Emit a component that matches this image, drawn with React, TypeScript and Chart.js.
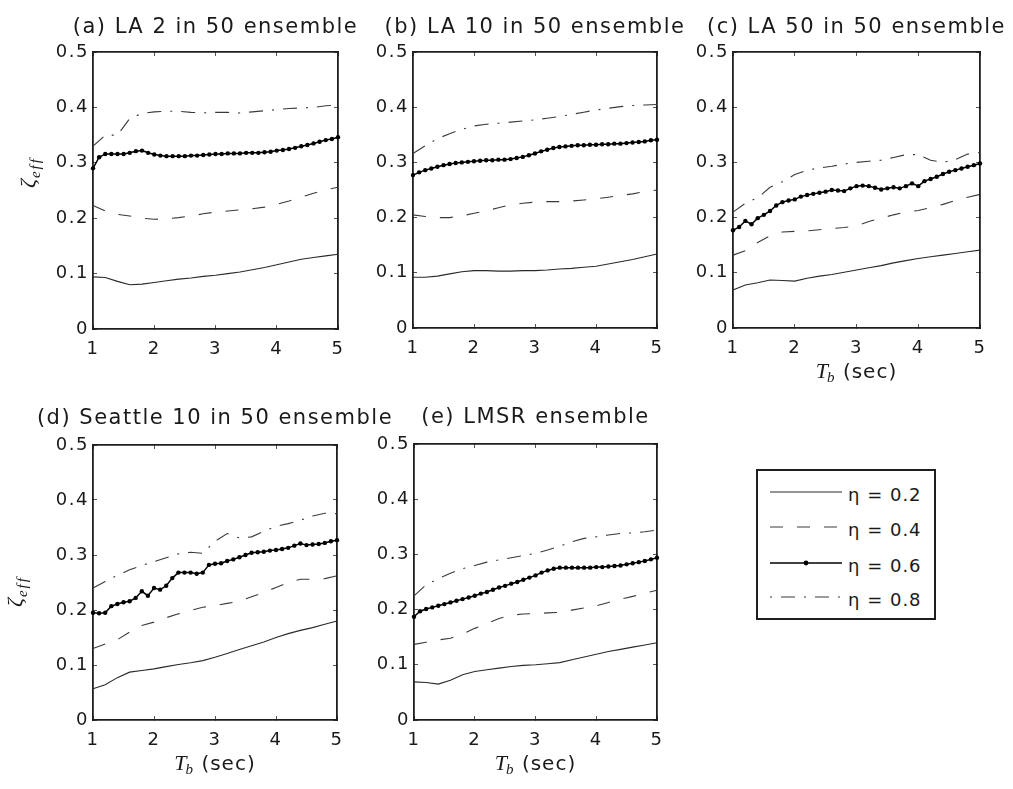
import React, { useEffect, useRef } from 'react';
import { Chart, registerables } from 'chart.js';

Chart.register(...registerables);

// ---------------- data ----------------
const TB_FINE = [
  1.0, 1.1, 1.2, 1.3, 1.4, 1.5, 1.6, 1.7, 1.8, 1.9,
  2.0, 2.1, 2.2, 2.3, 2.4, 2.5, 2.6, 2.7, 2.8, 2.9,
  3.0, 3.1, 3.2, 3.3, 3.4, 3.5, 3.6, 3.7, 3.8, 3.9,
  4.0, 4.1, 4.2, 4.3, 4.4, 4.5, 4.6, 4.7, 4.8, 4.9, 5.0,
];
const TB_COARSE = [
  1.0, 1.2, 1.4, 1.6, 1.8, 2.0, 2.2, 2.4, 2.6, 2.8,
  3.0, 3.2, 3.4, 3.6, 3.8, 4.0, 4.2, 4.4, 4.6, 4.8, 5.0,
];

const X_TICK_LABELS = ['1', '2', '3', '4', '5'];
const Y_TICK_LABELS = ['0', '0.1', '0.2', '0.3', '0.4', '0.5'];
const SERIES_LABELS = ['η = 0.2', 'η = 0.4', 'η = 0.6', 'η = 0.8'];
const PANEL_TITLES = [
  '(a) LA 2 in 50 ensemble',
  '(b) LA 10 in 50 ensemble',
  '(c) LA 50 in 50 ensemble',
  '(d) Seattle 10 in 50 ensemble',
  '(e) LMSR ensemble',
];
const X_TITLE_PARTS = ['T', 'b', ' (sec)'];
const Y_TITLE_PARTS = ['ζ', 'eff'];

// (a) LA 2 in 50
const A_E02 = [0.094, 0.093, 0.086, 0.080, 0.081, 0.084, 0.087, 0.090, 0.092, 0.095, 0.097, 0.100, 0.103, 0.107, 0.111, 0.116, 0.121, 0.126, 0.129, 0.132, 0.135];
const A_E04 = [0.223, 0.213, 0.207, 0.204, 0.200, 0.198, 0.199, 0.201, 0.204, 0.208, 0.211, 0.213, 0.215, 0.217, 0.220, 0.225, 0.231, 0.238, 0.245, 0.251, 0.256];
const A_E06 = [
  0.290, 0.310, 0.316, 0.316, 0.316, 0.316, 0.318, 0.321, 0.322, 0.318,
  0.315, 0.313, 0.312, 0.312, 0.312, 0.312, 0.313, 0.313, 0.314, 0.315,
  0.316, 0.316, 0.317, 0.317, 0.317, 0.318, 0.318, 0.318, 0.319, 0.320,
  0.322, 0.323, 0.325, 0.327, 0.330, 0.332, 0.335, 0.338, 0.341, 0.343, 0.346,
];
const A_E08 = [0.330, 0.350, 0.350, 0.380, 0.389, 0.392, 0.393, 0.393, 0.391, 0.390, 0.391, 0.391, 0.390, 0.392, 0.394, 0.396, 0.398, 0.399, 0.400, 0.403, 0.404];

// (b) LA 10 in 50
const B_E02 = [0.092, 0.092, 0.094, 0.098, 0.102, 0.104, 0.104, 0.103, 0.103, 0.104, 0.104, 0.105, 0.107, 0.108, 0.110, 0.112, 0.116, 0.120, 0.124, 0.129, 0.134];
const B_E04 = [0.205, 0.202, 0.200, 0.200, 0.203, 0.208, 0.212, 0.218, 0.223, 0.226, 0.228, 0.229, 0.229, 0.230, 0.232, 0.234, 0.237, 0.240, 0.243, 0.247, 0.250];
const B_E06 = [
  0.277, 0.282, 0.286, 0.289, 0.292, 0.295, 0.297, 0.299, 0.300, 0.301,
  0.302, 0.303, 0.304, 0.304, 0.305, 0.305, 0.306, 0.308, 0.310, 0.313,
  0.316, 0.320, 0.323, 0.326, 0.328, 0.329, 0.330, 0.331, 0.331, 0.332,
  0.332, 0.333, 0.333, 0.334, 0.334, 0.335, 0.336, 0.337, 0.338, 0.340, 0.341,
];
const B_E08 = [0.316, 0.330, 0.343, 0.352, 0.360, 0.366, 0.369, 0.371, 0.373, 0.375, 0.377, 0.380, 0.383, 0.387, 0.391, 0.395, 0.398, 0.401, 0.403, 0.404, 0.405];

// (c) LA 50 in 50
const C_E02 = [0.069, 0.078, 0.082, 0.087, 0.086, 0.085, 0.090, 0.094, 0.097, 0.101, 0.105, 0.109, 0.113, 0.118, 0.122, 0.126, 0.129, 0.132, 0.135, 0.138, 0.141];
const C_E04 = [0.132, 0.140, 0.155, 0.167, 0.174, 0.175, 0.176, 0.178, 0.180, 0.182, 0.185, 0.193, 0.199, 0.205, 0.210, 0.213, 0.218, 0.224, 0.231, 0.237, 0.242];
const C_E06 = [
  0.177, 0.183, 0.194, 0.188, 0.199, 0.205, 0.212, 0.222, 0.228, 0.231,
  0.233, 0.238, 0.241, 0.243, 0.245, 0.247, 0.250, 0.249, 0.248, 0.253,
  0.257, 0.258, 0.257, 0.254, 0.251, 0.253, 0.255, 0.253, 0.257, 0.262,
  0.257, 0.266, 0.270, 0.274, 0.279, 0.283, 0.286, 0.289, 0.292, 0.295, 0.298,
];
const C_E08 = [0.210, 0.226, 0.236, 0.255, 0.265, 0.278, 0.286, 0.290, 0.293, 0.297, 0.300, 0.302, 0.304, 0.309, 0.314, 0.314, 0.304, 0.300, 0.305, 0.315, 0.318];

// (d) Seattle 10 in 50
const D_E02 = [0.057, 0.064, 0.077, 0.087, 0.090, 0.093, 0.097, 0.101, 0.104, 0.108, 0.114, 0.121, 0.128, 0.135, 0.142, 0.150, 0.157, 0.163, 0.168, 0.174, 0.180];
const D_E04 = [0.130, 0.138, 0.146, 0.160, 0.172, 0.178, 0.186, 0.193, 0.199, 0.205, 0.208, 0.212, 0.216, 0.224, 0.232, 0.241, 0.250, 0.256, 0.256, 0.257, 0.262];
const D_E06 = [
  0.195, 0.194, 0.195, 0.207, 0.211, 0.214, 0.216, 0.222, 0.234, 0.226,
  0.240, 0.237, 0.244, 0.258, 0.268, 0.268, 0.268, 0.266, 0.268, 0.282,
  0.284, 0.285, 0.289, 0.292, 0.296, 0.300, 0.304, 0.305, 0.306, 0.308,
  0.309, 0.311, 0.313, 0.317, 0.321, 0.318, 0.319, 0.320, 0.322, 0.325, 0.327,
];
const D_E08 = [0.240, 0.252, 0.263, 0.273, 0.281, 0.288, 0.295, 0.302, 0.305, 0.303, 0.325, 0.339, 0.331, 0.333, 0.343, 0.352, 0.357, 0.363, 0.371, 0.376, 0.375];

// (e) LMSR
const E_E02 = [0.069, 0.068, 0.065, 0.072, 0.082, 0.088, 0.091, 0.094, 0.097, 0.099, 0.100, 0.102, 0.104, 0.109, 0.114, 0.119, 0.124, 0.128, 0.132, 0.136, 0.140];
const E_E04 = [0.137, 0.141, 0.145, 0.148, 0.156, 0.166, 0.175, 0.184, 0.190, 0.192, 0.193, 0.194, 0.195, 0.199, 0.203, 0.207, 0.213, 0.219, 0.224, 0.230, 0.235];
const E_E06 = [
  0.187, 0.197, 0.201, 0.204, 0.207, 0.210, 0.213, 0.216, 0.219, 0.222,
  0.225, 0.229, 0.232, 0.236, 0.240, 0.243, 0.247, 0.250, 0.254, 0.258,
  0.262, 0.267, 0.271, 0.274, 0.276, 0.276, 0.276, 0.276, 0.276, 0.276,
  0.277, 0.277, 0.278, 0.279, 0.280, 0.282, 0.284, 0.286, 0.288, 0.291, 0.294,
];
const E_E08 = [0.225, 0.245, 0.256, 0.266, 0.274, 0.280, 0.286, 0.290, 0.294, 0.298, 0.302, 0.308, 0.315, 0.323, 0.329, 0.332, 0.335, 0.338, 0.339, 0.341, 0.344];

// ---------------- layout / style ----------------
const PAD_L = 90;
const PAD_R = 90;
const PAD_T = 52;
const PAD_B = 70;
const TITLE_SIZE = 21;

const PANELS = [
  { title: PANEL_TITLES[0], s: [A_E02, A_E04, A_E06, A_E08], left: 93, top: 52, w: 245, h: 277, gap: 18.7, xTitle: false, yTitle: { x: 35, y: 188 } },
  { title: PANEL_TITLES[1], s: [B_E02, B_E04, B_E06, B_E08], left: 413, top: 52, w: 244, h: 276, gap: 18.7, xTitle: false, yTitle: null },
  { title: PANEL_TITLES[2], s: [C_E02, C_E04, C_E06, C_E08], left: 733, top: 52, w: 247, h: 276, gap: 18.7, xTitle: true, yTitle: null },
  { title: PANEL_TITLES[3], s: [D_E02, D_E04, D_E06, D_E08], left: 93, top: 445, w: 244, h: 275, gap: 20, xTitle: true, yTitle: { x: 22, y: 607 } },
  { title: PANEL_TITLES[4], s: [E_E02, E_E04, E_E06, E_E08], left: 414, top: 444, w: 243, h: 276, gap: 20, xTitle: true, yTitle: null },
];

const STYLES = [
  { color: '#2a2a2a', width: 1.1, dash: [] as number[], points: false },
  { color: '#3a3a3a', width: 1.1, dash: [13, 14], points: false },
  { color: '#000000', width: 1.5, dash: [] as number[], points: true },
  { color: '#3a3a3a', width: 1.1, dash: [14, 9, 2, 9], points: false },
];

const FRAME = '#1e1e1e';
const TEXT = '#1a1a1a';

const spacingPlugin = {
  id: 'letterSpacing',
  beforeDraw(chart: any) {
    chart.ctx.letterSpacing = '1.5px';
  },
};

function axisTitles(p: any, cLeft: number, cTop: number) {
  return {
    id: 'axisTitles',
    afterDraw(chart: any) {
      const { ctx, chartArea } = chart;
      ctx.save();
      ctx.fillStyle = TEXT;
      ctx.textBaseline = 'alphabetic';
      ctx.textAlign = 'left';
      if (p.xTitle) {
        const y = chartArea.bottom + 50;
        const fT = 'italic 22px "Liberation Serif"';
        const fb = 'italic 15px "Liberation Serif"';
        const fs = '20px "DejaVu Sans"';
        ctx.letterSpacing = '0px';
        ctx.font = fT;
        const wT = ctx.measureText(X_TITLE_PARTS[0]).width;
        ctx.font = fb;
        const wb = ctx.measureText(X_TITLE_PARTS[1]).width;
        ctx.font = fs;
        ctx.letterSpacing = '1px';
        const ws = ctx.measureText(X_TITLE_PARTS[2]).width;
        let x = (chartArea.left + chartArea.right) / 2 - (wT + wb + ws) / 2;
        ctx.letterSpacing = '0px';
        ctx.font = fT;
        ctx.fillText(X_TITLE_PARTS[0], x, y);
        x += wT;
        ctx.font = fb;
        ctx.fillText(X_TITLE_PARTS[1], x - 1, y + 4);
        x += wb;
        ctx.font = fs;
        ctx.letterSpacing = '1px';
        ctx.fillText(X_TITLE_PARTS[2], x, y);
      }
      if (p.yTitle) {
        ctx.translate(p.yTitle.x - cLeft, p.yTitle.y - cTop);
        ctx.rotate(-Math.PI / 2);
        ctx.letterSpacing = '0px';
        ctx.font = 'italic 22px "Liberation Serif"';
        ctx.fillText(Y_TITLE_PARTS[0], 0, 0);
        const wz = ctx.measureText(Y_TITLE_PARTS[0]).width;
        ctx.font = 'italic 15px "Liberation Serif"';
        ctx.letterSpacing = '2px';
        ctx.fillText(Y_TITLE_PARTS[1], wz + 1, 5);
      }
      ctx.restore();
    },
  };
}

function Panel({ p }: { p: any }) {
  const ref = useRef<HTMLCanvasElement>(null);
  const W = p.w + PAD_L + PAD_R;
  const H = p.h + PAD_T + PAD_B;
  const cLeft = p.left - PAD_L;
  const cTop = p.top - PAD_T;

  useEffect(() => {
    const lineH = TITLE_SIZE * 1.2;
    const pt = PAD_T - p.gap - 0.297 * TITLE_SIZE - lineH / 2;
    const pb = PAD_T - lineH - pt;
    const datasets = p.s.map((vals: number[], i: number) => {
      const xs = vals.length === TB_FINE.length ? TB_FINE : TB_COARSE;
      const st = STYLES[i];
      return {
        label: SERIES_LABELS[i],
        data: vals.map((v: number, k: number) => ({ x: xs[k], y: v })),
        borderColor: st.color,
        backgroundColor: st.color,
        borderWidth: st.width,
        borderDash: st.dash,
        pointRadius: st.points ? 2.2 : 0,
        pointBorderWidth: 0,
        pointBackgroundColor: '#000',
        tension: 0,
        fill: false,
        clip: false,
      };
    });
    const tickFont = { family: 'DejaVu Sans', size: 18 };
    const gridOpts = { drawOnChartArea: false, drawTicks: true, tickLength: -4, color: '#555', lineWidth: 1 };
    const borderOpts = { display: true, color: FRAME, width: 1.8 };
    const chart = new Chart(ref.current as HTMLCanvasElement, {
      type: 'line',
      data: { datasets },
      options: {
        responsive: false,
        animation: false,
        events: [],
        layout: { padding: 0 },
        plugins: {
          legend: { display: false },
          tooltip: { enabled: false },
          title: {
            display: true,
            text: p.title,
            color: TEXT,
            font: { family: 'DejaVu Sans', size: TITLE_SIZE, weight: 'normal', lineHeight: 1.2 },
            padding: { top: pt, bottom: pb },
          },
        },
        scales: {
          x: {
            type: 'linear',
            position: 'bottom',
            min: 1,
            max: 5,
            grid: gridOpts,
            border: borderOpts,
            ticks: {
              stepSize: 1,
              color: TEXT,
              font: tickFont,
              padding: 14,
              maxRotation: 0,
              autoSkip: false,
              callback: (_v: any, i: number) => X_TICK_LABELS[i],
            },
            afterFit: (s: any) => { s.height = PAD_B; },
          },
          x2: {
            type: 'linear',
            position: 'top',
            min: 1,
            max: 5,
            grid: gridOpts,
            border: borderOpts,
            ticks: { stepSize: 1, display: false },
            afterFit: (s: any) => { s.height = 0; },
          },
          y: {
            type: 'linear',
            position: 'left',
            min: 0,
            max: 0.5,
            grid: gridOpts,
            border: borderOpts,
            ticks: {
              stepSize: 0.1,
              color: TEXT,
              font: tickFont,
              padding: 8,
              callback: (_v: any, i: number) => Y_TICK_LABELS[i],
            },
            afterFit: (s: any) => { s.width = PAD_L; },
          },
          y2: {
            type: 'linear',
            position: 'right',
            min: 0,
            max: 0.5,
            grid: gridOpts,
            border: borderOpts,
            ticks: { stepSize: 0.1, display: false },
            afterFit: (s: any) => { s.width = PAD_R; },
          },
        },
      } as any,
      plugins: [spacingPlugin, axisTitles(p, cLeft, cTop)],
    });
    return () => chart.destroy();
  }, []);

  return (
    <canvas
      ref={ref}
      width={W}
      height={H}
      style={{ position: 'absolute', left: cLeft, top: cTop, width: W, height: H }}
    />
  );
}

const LEGEND_ROWS = [23, 58, 94, 128];

function Legend() {
  const dashes = ['', '13 14', '', '2 9 14 9'];
  return (
    <div
      style={{
        position: 'absolute',
        left: 756,
        top: 469,
        width: 180,
        height: 151,
        boxSizing: 'border-box',
        border: `2px solid ${FRAME}`,
        background: '#fff',
      }}
    >
      <svg width={176} height={147} style={{ position: 'absolute', left: 0, top: 0 }}>
        {SERIES_LABELS.map((lab, i) => {
          const y = LEGEND_ROWS[i] - 2;
          return (
            <g key={lab}>
              <line
                x1={12}
                x2={84}
                y1={y}
                y2={y}
                stroke={STYLES[i].color}
                strokeWidth={i === 2 ? 1.3 : 1.1}
                strokeDasharray={dashes[i] || undefined}
              />
              {i === 2 ? <circle cx={48} cy={y} r={2.4} fill="#000" /> : null}
              <text
                x={90}
                y={y + 8.5}
                fill={TEXT}
                style={{ fontFamily: 'DejaVu Sans', fontSize: 18, letterSpacing: '1px' }}
              >
                {lab}
              </text>
            </g>
          );
        })}
      </svg>
    </div>
  );
}

export default function App() {
  return (
    <div
      style={{
        position: 'absolute',
        left: 0,
        top: 0,
        width: 1013,
        height: 789,
        overflow: 'hidden',
        background: '#fff',
      }}
    >
      {PANELS.map((p, i) => (
        <Panel key={i} p={p} />
      ))}
      <Legend />
    </div>
  );
}
